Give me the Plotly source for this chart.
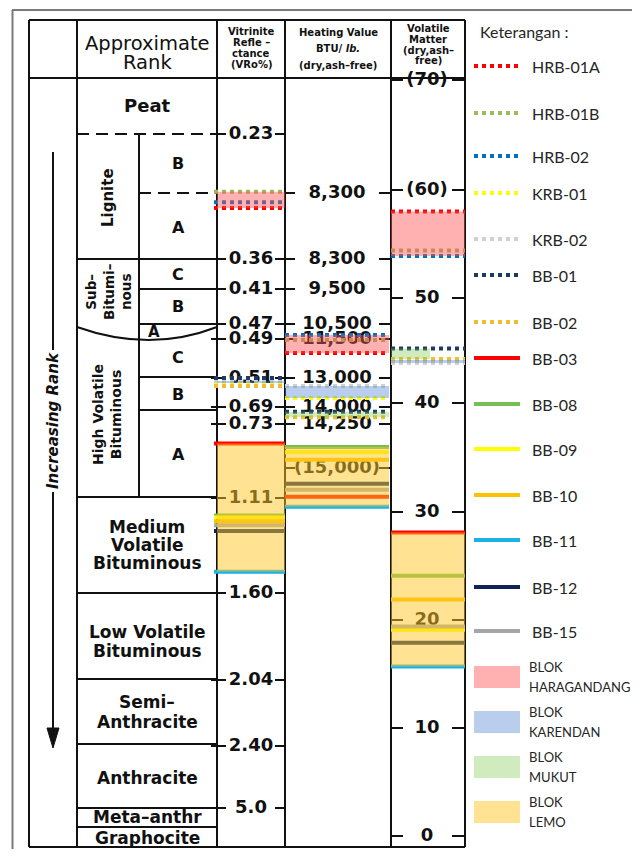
import numpy as np
import plotly.graph_objects as go

# ---------------- data ----------------
VRO_TICKS = [0.23, 0.36, 0.41, 0.47, 0.49, 0.51, 0.69, 0.73, 1.11, 1.60, 2.04, 2.40, 5.0]
VRO_LABELS = ["0.23", "0.36", "0.41", "0.47", "0.49", "0.51", "0.69", "0.73", "1.11", "1.60", "2.04", "2.40", "5.0"]
BTU_TICKS = [8300, 8300, 9500, 10500, 11500, 13000, 14000, 14250, 15000]
BTU_LABELS = ["8,300", "8,300", "9,500", "10,500", "11,500", "13,000", "14,000", "14,250", "(15,000)"]
VM_TICKS = [70, 60, 50, 40, 30, 20, 10, 0]
VM_LABELS = ["(70)", "(60)", "50", "40", "30", "20", "10", "0"]

SAMPLES = ["HRB-01A", "HRB-01B", "HRB-02", "KRB-01", "KRB-02", "BB-01", "BB-02",
           "BB-03", "BB-08", "BB-09", "BB-10", "BB-11", "BB-12", "BB-15"]
SAMPLE_BLOCK = ["HARAGANDANG", "HARAGANDANG", "HARAGANDANG", "KARENDAN", "KARENDAN", "MUKUT", "MUKUT",
                "LEMO", "LEMO", "LEMO", "LEMO", "LEMO", "LEMO", "LEMO"]
SAMPLE_VRO = [0.307, 0.290, 0.301, 0.541, 0.529, 0.51, 0.56, 0.83, 1.20, 1.21, 1.23, 1.49, 1.28, 1.25]
SAMPLE_BTU = [12040, 11540, 11230, 13690, 13280, 14070, 14150, 15490, 14640, 14730, 14860, 15660, 15270, 15370]
SAMPLE_VM = [58.0, 54.4, 53.9, 44.1, 43.8, 45.2, 44.2, 28.1, 24.1, 19.1, 21.9, 15.7, 17.9, 19.4]

BLOCKS = ["HARAGANDANG", "KARENDAN", "MUKUT", "LEMO"]

# ---------------- styles / layout ----------------
SAMPLE_COLOR = ["#FF0000", "#9BBB59", "#0070C0", "#FFFF00", "#D0D0D0", "#1F3864", "#F0BE32",
                "#FF0000", "#77BE55", "#FFFF00", "#FFC000", "#1AB0E8", "#0E2452", "#A6A6A6"]
SAMPLE_DASH = ["dot"] * 7 + ["solid"] * 7
BLOCK_FILL = {"HARAGANDANG": "rgba(255,80,80,0.45)", "KARENDAN": "rgba(80,130,210,0.40)",
              "MUKUT": "rgba(120,200,70,0.35)", "LEMO": "rgba(255,200,40,0.50)"}

X_L, X_RANK, X_SUB, X_VRO, X_BTU, X_VM, X_R = 29, 77, 139, 217, 285, 391, 465
Y_TOP, Y_HEAD, Y_BOT = 20, 78, 847

VRO_ROWS = [134, 259, 289, 324, 339, 378, 407, 424, 498, 593, 680, 746, 808]
BTU_ROWS = [193, 259, 289, 324, 339, 378, 407, 424, 468]
VM_ROWS = [80, 190, 298, 403, 512, 620, 728, 836]

COLS = {  # x extent of the sample lines, label centre, tick segments
    "vro": dict(x0=214, x1=285, cx=251, ticks=[(211, 226), (275, 285)]),
    "btu": dict(x0=285, x1=389, cx=337, ticks=[(285, 295), (379, 391)]),
    "vm": dict(x0=391, x1=465, cx=427, ticks=[(391, 403), (452, 466)]),
}
BLOCK_COLS = {"HARAGANDANG": ["vro", "btu", "vm"], "KARENDAN": ["vro", "btu", "vm"],
              "MUKUT": ["btu", "vm"], "LEMO": ["vro", "btu", "vm"]}
MUKUT_VM_X1 = 430

LEGEND_ROWS = [66, 113, 156, 193, 239, 275, 322, 358, 404, 449, 495, 540, 587, 631]
BLOCK_LEGEND_ROWS = [677, 722, 767, 812]

# the page body keeps an 8px margin: the plot covers page pixels 8..640 x 8..849
OFF = 8


def to_row(vals, ticks, rows):
    t = np.asarray(ticks, float)
    r = np.asarray(rows, float)
    o = np.argsort(t)
    t, r = t[o], r[o]
    v = np.asarray(vals, float)
    out = np.interp(v, t, r)
    hi = v > t[-1]
    out[hi] = r[-1] + (v[hi] - t[-1]) * (r[-1] - r[-2]) / (t[-1] - t[-2])
    lo = v < t[0]
    out[lo] = r[0] + (v[lo] - t[0]) * (r[1] - r[0]) / (t[1] - t[0])
    return out


ROWS = {
    "vro": to_row(SAMPLE_VRO, VRO_TICKS, VRO_ROWS),
    "btu": to_row(SAMPLE_BTU, BTU_TICKS[1:], BTU_ROWS[1:]),
    "vm": to_row(SAMPLE_VM, VM_TICKS, VM_ROWS),
}

fig = go.Figure()
shapes = []
ann = []
INK = "#111111"


def hline(y, x0, x1, w=2, dash="solid", color=INK):
    shapes.append(dict(type="line", xref="x", yref="y", x0=x0, x1=x1, y0=y, y1=y,
                       line=dict(color=color, width=w, dash=dash), layer="below"))


def vline(x, y0, y1, w=2, color=INK):
    shapes.append(dict(type="line", xref="x", yref="y", x0=x, x1=x, y0=y0, y1=y1,
                       line=dict(color=color, width=w), layer="below"))


def text(x, y, s, size=17, family="DejaVu Sans", bold=True, angle=0, xanchor="center",
         color="#111111", italic=False):
    ann.append(dict(x=x, y=y, xref="x", yref="y", text=s, showarrow=False, textangle=angle,
                    xanchor=xanchor, yanchor="middle",
                    font=dict(family=family, size=size, color=color,
                              weight="bold" if bold else "normal",
                              style="italic" if italic else "normal")))


# page frame
hline(10, 12, 640, w=2, color="#7a7a7a")
vline(12.5, 10, 849, w=2, color="#7a7a7a")

# table frame and columns
hline(Y_TOP, X_L, X_R)
hline(Y_BOT, X_L, X_R)
hline(Y_HEAD, X_L, X_R)
for x in [X_L, X_RANK, X_VRO, X_BTU, X_VM, X_R]:
    vline(x, Y_TOP, Y_BOT)
vline(X_SUB, 134, 497)

# rank boundaries
hline(134, X_RANK, X_VRO, dash="12px,7px")
hline(193, X_SUB, X_VRO, dash="12px,7px")
for y in [259, 497, 593, 679, 744, 808, 827]:
    hline(y, X_RANK, X_VRO)
for y in [289, 324, 377, 410]:
    hline(y, X_SUB, X_VRO)
shapes.append(dict(type="path", xref="x", yref="y", path="M 77 327 Q 150 353 217 327",
                   line=dict(color=INK, width=2), layer="below"))

# increasing rank arrow
vline(53, 152, 350)
vline(53, 492, 735)
shapes.append(dict(type="path", xref="x", yref="y", path="M 47 728 L 59 728 L 53 748 Z",
                   fillcolor=INK, line=dict(color=INK, width=1), layer="below"))
text(53, 421, "Increasing Rank", size=15, angle=-90, italic=True)

# header texts
text(147, 43, "Approximate", size=19.5, bold=False)
text(147, 62, "Rank", size=19.5, bold=False)
for y, s in zip([31, 42, 53, 64], ["Vitrinite", "Refle –", "ctance", "(VRo%)"]):
    text(251, y, s, size=10)
for y, s in zip([32, 48, 65], ["Heating Value", "BTU/ <i>lb.</i>", "(dry,ash–free)"]):
    text(338, y, s, size=10)
for y, s in zip([28, 39, 50, 60], ["Volatile", "Matter", "(dry,ash–", "free)"]):
    text(428, y, s, size=10)

# rank names
text(147, 105, "Peat", size=18)
text(108, 198, "Lignite", size=15, angle=-90)
text(178, 163, "B", size=16)
text(178, 227, "A", size=16)
text(108, 292, "Sub–<br>Bitumi–<br>nous", size=13.5, angle=-90)
text(178, 274, "C", size=16)
text(178, 306, "B", size=16)
text(154, 332, "A", size=15)
text(107, 415, "High Volatile<br>Bituminous", size=14, angle=-90)
text(178, 357, "C", size=16)
text(178, 394, "B", size=16)
text(178, 454, "A", size=16)
for y, s in zip([527, 545, 563], ["Medium", "Volatile", "Bituminous"]):
    text(147, y, s)
for y, s in zip([632, 651], ["Low Volatile", "Bituminous"]):
    text(147, y, s)
for y, s in zip([702, 722], ["Semi–", "Anthracite"]):
    text(147, y, s)
text(147, 778, "Anthracite")
text(147, 817, "Meta–anthr")
text(147, 838, "Graphocite")

# tick marks and tick labels (labels as traces so fills can tint them)
for key, labels, rows in [("vro", VRO_LABELS, VRO_ROWS), ("btu", BTU_LABELS, BTU_ROWS),
                          ("vm", VM_LABELS, VM_ROWS)]:
    c = COLS[key]
    for r in rows:
        for (a, b) in c["ticks"]:
            hline(r, a, b)
    fig.add_trace(go.Scatter(x=[c["cx"]] * len(labels), y=rows, mode="text", text=labels,
                             textposition="middle center",
                             textfont=dict(family="DejaVu Sans", size=18, color="#111111",
                                           weight="bold"),
                             hoverinfo="skip", showlegend=False))

# sample lines
for i, name in enumerate(SAMPLES):
    for key in ["vro", "btu", "vm"]:
        c = COLS[key]
        r = ROWS[key][i]
        fig.add_trace(go.Scatter(x=[c["x0"], c["x1"]], y=[r, r], mode="lines",
                                 line=dict(color=SAMPLE_COLOR[i], width=4, dash=SAMPLE_DASH[i]),
                                 hoverinfo="skip", showlegend=False))

# block fills
for b in BLOCKS:
    idx = [i for i, s in enumerate(SAMPLE_BLOCK) if s == b]
    for key in BLOCK_COLS[b]:
        c = COLS[key]
        rr = ROWS[key][idx]
        r0, r1 = rr.min(), rr.max()
        x0, x1 = c["x0"], c["x1"]
        if key == "vro":
            x0 = X_VRO
        if b == "MUKUT" and key == "vm":
            x1 = MUKUT_VM_X1
        fig.add_trace(go.Scatter(x=[x0, x1, x1, x0, x0], y=[r0, r0, r1, r1, r0], mode="lines",
                                 fill="toself", fillcolor=BLOCK_FILL[b], line=dict(width=0),
                                 hoverinfo="skip", showlegend=False))

# legend
text(478, 31, "Keterangan :", size=16, family="Lato", bold=False, xanchor="left", color="#262626")
for i, name in enumerate(SAMPLES):
    y = LEGEND_ROWS[i]
    fig.add_trace(go.Scatter(x=[474, 520], y=[y, y], mode="lines",
                             line=dict(color=SAMPLE_COLOR[i], width=4, dash=SAMPLE_DASH[i]),
                             hoverinfo="skip", showlegend=False))
    text(530, y, name, size=16, family="Lato", bold=False, xanchor="left", color="#262626")
for b, y in zip(BLOCKS, BLOCK_LEGEND_ROWS):
    fig.add_trace(go.Scatter(x=[474, 520, 520, 474, 474], y=[y - 11, y - 11, y + 11, y + 11, y - 11],
                             mode="lines", fill="toself", fillcolor=BLOCK_FILL[b], line=dict(width=0),
                             hoverinfo="skip", showlegend=False))
    text(527, y - 10, "BLOK", size=13, family="Lato", bold=False, xanchor="left", color="#262626")
    text(527, y + 10, b, size=13, family="Lato", bold=False, xanchor="left", color="#262626")

fig.update_layout(
    width=640 - OFF, height=857 - 2 * OFF, margin=dict(l=0, r=0, t=0, b=0),
    paper_bgcolor="white", plot_bgcolor="white", showlegend=False,
    xaxis=dict(range=[OFF, 640], visible=False, fixedrange=True),
    yaxis=dict(range=[857 - OFF, OFF], visible=False, fixedrange=True),
    shapes=shapes, annotations=ann,
)
fig.write_html("out.html")
